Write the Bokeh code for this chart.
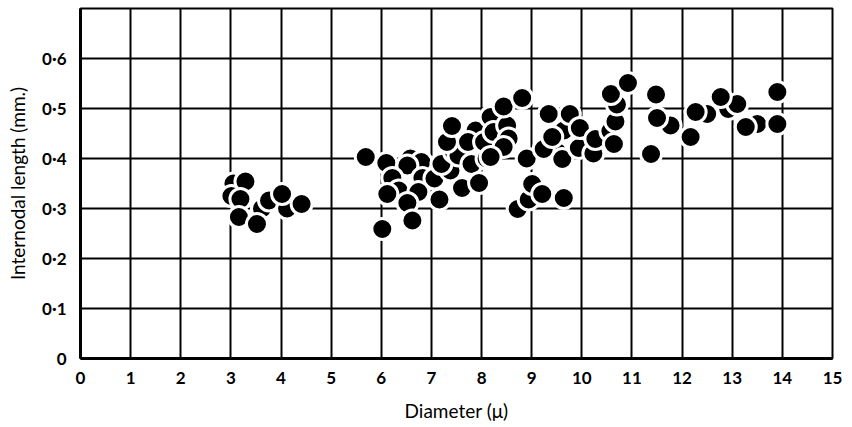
from bokeh.plotting import figure
from bokeh.models import Range1d, FixedTicker, CustomJSTickFormatter
from bokeh.embed import file_html
from bokeh.resources import INLINE

# Diameter (micron) and internodal length (mm)
diameter = [
    3.05, 3.01, 3.29, 3.19, 3.16, 3.62, 3.52, 3.76, 4.12, 4.02, 4.41,
    5.69, 6.10, 6.58, 6.80, 6.52, 6.22, 6.82, 7.06, 6.35, 6.12, 6.74, 6.52, 7.16, 6.62, 6.02,
    7.38, 7.20, 7.45, 7.54, 7.31, 7.41, 7.88, 7.73, 7.80, 8.10, 8.05, 8.18, 8.24, 8.51, 8.54,
    8.44, 8.44, 8.18, 7.61, 7.95, 8.81, 8.72, 8.90,
    8.94, 9.01, 9.21, 9.64, 9.51, 9.61, 9.64, 9.24, 9.41, 9.34, 9.76, 9.94, 9.96, 10.23,
    10.27, 10.57, 10.67, 10.64, 10.70, 10.58, 10.92,
    11.77, 11.48, 11.50, 11.38, 12.50, 12.27, 12.17, 12.92, 13.10, 12.77,
    13.50, 13.27, 13.90, 13.90,
]
length = [
    0.350, 0.325, 0.354, 0.319, 0.283, 0.300, 0.269, 0.316, 0.300, 0.329, 0.309,
    0.403, 0.391, 0.400, 0.393, 0.386, 0.361, 0.361, 0.360, 0.336, 0.329, 0.333, 0.311, 0.318, 0.276, 0.259,
    0.376, 0.389, 0.413, 0.406, 0.433, 0.465, 0.456, 0.433, 0.389, 0.400, 0.433, 0.483, 0.453, 0.466, 0.440,
    0.423, 0.504, 0.403, 0.341, 0.351, 0.521, 0.299, 0.400,
    0.318, 0.349, 0.329, 0.321, 0.413, 0.399, 0.456, 0.419, 0.443, 0.489, 0.489, 0.421, 0.461, 0.410,
    0.439, 0.455, 0.474, 0.429, 0.508, 0.529, 0.551,
    0.466, 0.528, 0.481, 0.409, 0.489, 0.493, 0.443, 0.499, 0.509, 0.523,
    0.469, 0.463, 0.533, 0.469,
]

x_ticks = list(range(0, 16))
y_ticks = [0, 0.1, 0.2, 0.3, 0.4, 0.5, 0.6]
x_title = "Diameter (\u03bc)"
y_title = "Internodal length (mm.)"

FONT = "Lato"

p = figure(width=852, height=427, output_backend="svg", toolbar_location=None,
           x_range=Range1d(0, 15), y_range=Range1d(0, 0.7),
           min_border_left=80, min_border_right=20, min_border_top=8, min_border_bottom=69)
p.background_fill_color = "white"
p.border_fill_color = "white"
p.outline_line_color = "black"
p.outline_line_width = 2

p.xaxis.ticker = FixedTicker(ticks=x_ticks)
p.yaxis.ticker = FixedTicker(ticks=y_ticks)
p.yaxis.formatter = CustomJSTickFormatter(code="""
    return tick == 0 ? "0" : tick.toFixed(1).replace(".", "\u00b7");
""")

for ax in (p.xaxis[0], p.yaxis[0]):
    ax.axis_line_width = 3
    ax.axis_line_color = "black"
    ax.major_tick_out = 0
    ax.major_tick_in = 0
    ax.minor_tick_out = 0
    ax.minor_tick_in = 0
    ax.major_label_text_font = FONT
    ax.major_label_text_font_style = "bold"
    ax.major_label_text_font_size = "17px"
    ax.major_label_text_color = "black"
    ax.axis_label_text_font = FONT
    ax.axis_label_text_font_style = "normal"
    ax.axis_label_text_font_size = "19px"
    ax.axis_label_text_color = "black"

p.xaxis.axis_label = x_title
p.yaxis.axis_label = y_title
p.xaxis.major_label_standoff = 13
p.yaxis.major_label_standoff = 14
p.xaxis.axis_label_standoff = 12
p.yaxis.axis_label_standoff = 10

p.xgrid.grid_line_color = "black"
p.ygrid.grid_line_color = "black"
p.xgrid.grid_line_width = 2
p.ygrid.grid_line_width = 2

p.scatter(diameter, length, size=21, fill_color="black", line_color="white", line_width=3)

open("out.html", "w").write(file_html(p, INLINE))
